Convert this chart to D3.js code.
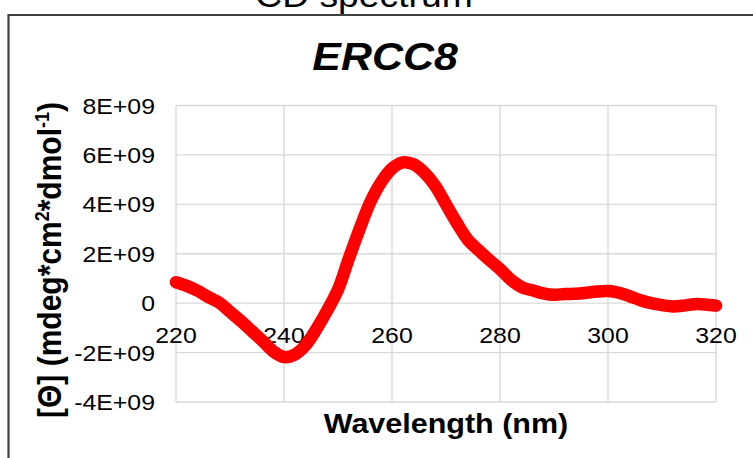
<!DOCTYPE html>
<html><head><meta charset="utf-8">
<script src="https://cdn.jsdelivr.net/npm/d3@7"></script>
<style>body{margin:0;background:#fff}svg{display:block}</style>
</head><body><svg id="c" width="753" height="458"></svg>
<script>
const wavelengths = [220,222,224,226,228,230,232,234,236,238,240,242,244,246,248,250,252,254,256,258,260,262,264,266,268,270,272,274,276,278,280,282,284,286,288,290,292,294,296,298,300,302,304,306,308,310,312,314,316,318,320];
const ellipticity = [0.85e9,0.70e9,0.50e9,0.25e9,0.02e9,-0.35e9,-0.72e9,-1.12e9,-1.52e9,-1.95e9,-2.18e9,-2.08e9,-1.70e9,-1.05e9,-0.30e9,0.55e9,1.80e9,3.0e9,4.1e9,4.9e9,5.45e9,5.70e9,5.62e9,5.28e9,4.75e9,4.00e9,3.25e9,2.58e9,2.15e9,1.75e9,1.38e9,0.95e9,0.65e9,0.52e9,0.40e9,0.34e9,0.37e9,0.38e9,0.42e9,0.47e9,0.49e9,0.42e9,0.28e9,0.12e9,0.0,-0.08e9,-0.13e9,-0.10e9,-0.04e9,-0.05e9,-0.10e9];
const xTicks = [220,240,260,280,300,320];
const yTicks = [-4e9,-2e9,0,2e9,4e9,6e9,8e9];
const yTickLabels = ["-4E+09","-2E+09","0","2E+09","4E+09","6E+09","8E+09"];
const pageTitle = "CD spectrum";
const chartTitle = "ERCC8";
const xTitle = "Wavelength (nm)";

const svg = d3.select("#c");
const SX = 1.13;
const FONT = "Arial, 'Liberation Sans', Helvetica, sans-serif";
const x = d3.scaleLinear().domain([220,320]).range([176,716]);
const y = d3.scaleLinear().domain([-4e9,8e9]).range([402,105.5]);

function txt(px, py, str, size, opts={}) {
  const t = svg.append("text")
    .attr("transform", `translate(${px},${py}) scale(${SX},1)`)
    .attr("font-family", FONT)
    .attr("font-size", size)
    .attr("text-anchor", opts.anchor || "middle")
    .attr("fill", "#000");
  if (opts.bold) t.attr("font-weight", "bold");
  if (opts.italic) t.attr("font-style", "italic");
  t.text(str);
  return t;
}

// outer title (cut off at the top edge, as in the reference)
txt(364, 7, pageTitle, 33);

// frame
svg.append("path").attr("d", "M8.5,470 V15 H770").attr("fill", "none")
  .attr("stroke", "#404040").attr("stroke-width", 2.2);

// gridlines
svg.append("g").selectAll("line").data(yTicks).join("line")
  .attr("x1", x(220)).attr("x2", x(320))
  .attr("y1", d => y(d)).attr("y2", d => y(d))
  .attr("stroke", "#d9d9d9").attr("stroke-width", 1.4);
svg.append("g").selectAll("line").data(xTicks).join("line")
  .attr("x1", d => x(d)).attr("x2", d => x(d))
  .attr("y1", y(8e9)).attr("y2", y(-4e9))
  .attr("stroke", "#d9d9d9").attr("stroke-width", 1.4);

// chart title
txt(385, 70, chartTitle, 38, {bold:true, italic:true});

// y tick labels
yTicks.forEach((v,i) => txt(155, y(v) + 8, yTickLabels[i], 22, {anchor:"end"}));
// x tick labels
xTicks.forEach(v => txt(x(v), 343, String(v), 22));

// axis titles
txt(446, 433, xTitle, 27, {bold:true});
const yl = svg.append("text")
  .attr("transform", `translate(61,260) rotate(-90) scale(1,${SX})`)
  .attr("font-family", FONT).attr("font-size", 30).attr("font-weight", "bold")
  .attr("text-anchor", "middle").attr("fill", "#000");
yl.append("tspan").text("[Θ] (mdeg*cm");
yl.append("tspan").attr("font-size", 18).attr("dy", -11).text("2");
yl.append("tspan").attr("dy", 11).text("*dmol");
yl.append("tspan").attr("font-size", 18).attr("dy", -11).text("-1");
yl.append("tspan").attr("dy", 11).text(")");

// data line
const pts = wavelengths.map((w,i) => [w, ellipticity[i]]);
svg.append("path").datum(pts)
  .attr("d", d3.line().x(d => x(d[0])).y(d => y(d[1])).curve(d3.curveCatmullRom.alpha(0.5)))
  .attr("fill", "none").attr("stroke", "#ff0000").attr("stroke-width", 12.5)
  .attr("stroke-linecap", "round").attr("stroke-linejoin", "round");
</script></body></html>
